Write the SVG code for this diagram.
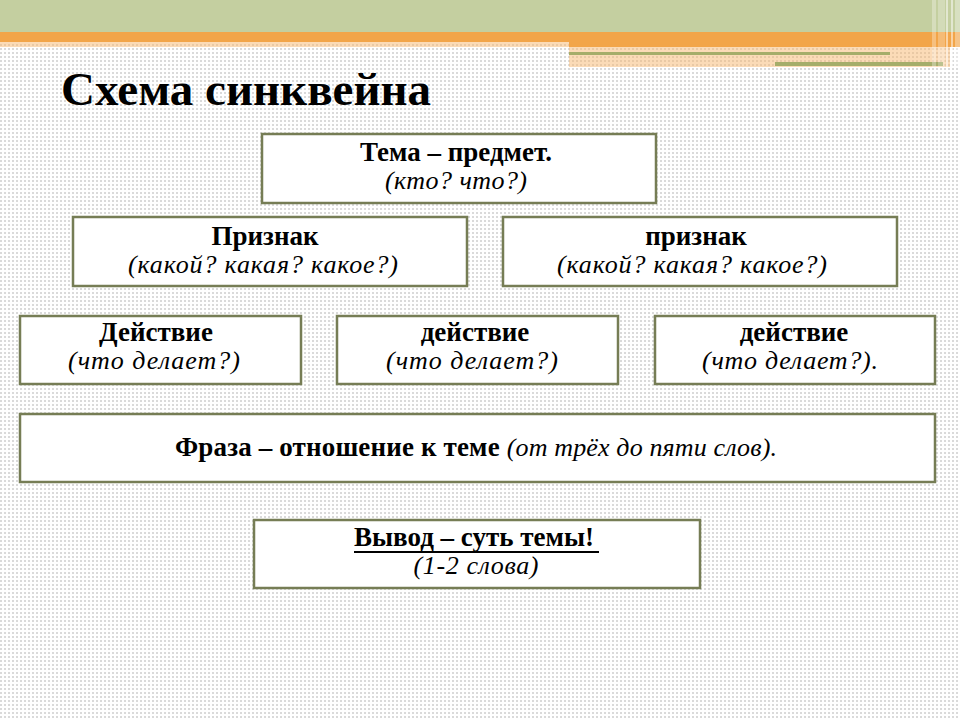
<svg xmlns="http://www.w3.org/2000/svg" width="960" height="720" viewBox="0 0 960 720">
<defs>
<pattern id="dots" width="4" height="4" patternUnits="userSpaceOnUse">
<rect x="0" y="0" width="2" height="2" fill="#dadada"/>
</pattern>
<style>
.box{fill:#ffffff;stroke:#767d55;stroke-width:2.5}
.b{font-family:"Liberation Serif","Times New Roman",serif;font-weight:bold;font-size:27px;fill:#000}
.i{font-family:"Liberation Serif","Times New Roman",serif;font-style:italic;font-size:26px;fill:#000}
.hd{font-family:"Liberation Serif","Times New Roman",serif;font-weight:bold;font-size:47px;fill:#000}
</style>
</defs>
<rect width="960" height="720" fill="#ffffff"/>
<rect width="960" height="720" fill="url(#dots)"/>
<rect x="0" y="0" width="960" height="32" fill="#c4cfa0"/>
<rect x="0" y="32" width="960" height="10" fill="#f2a549"/>
<rect x="569" y="42" width="391" height="5" fill="#f2a549"/>
<rect x="0" y="42" width="569" height="5" fill="#f7b870" opacity="0.5"/>
<rect x="569" y="47" width="381" height="20" fill="#f7b870" opacity="0.5"/>
<rect x="569" y="52" width="321" height="3" fill="#a5ad6a"/>
<rect x="775" y="62" width="168" height="4" fill="#a5ad6a"/>
<rect x="932" y="0" width="4" height="67" fill="#ffffff" opacity="0.3"/>
<rect x="938" y="0" width="7" height="67" fill="#ffffff" opacity="0.25"/>
<rect x="946" y="0" width="2" height="67" fill="#ffffff" opacity="0.5"/>
<rect x="951" y="0" width="2" height="67" fill="#ffffff" opacity="0.5"/>
<rect x="955" y="0" width="5" height="67" fill="#ffffff" opacity="0.35"/>
<text class="hd" x="61" y="105">Схема синквейна</text>
<g id="connectors"></g>
<g id="tema">
<rect class="box" x="262" y="134" width="394" height="69"/>
<text class="b" x="456" y="161" text-anchor="middle">Тема – предмет.</text>
<text class="i" x="456" y="189" text-anchor="middle" textLength="142" lengthAdjust="spacing">(кто? что?)</text>
</g>
<g id="priznak1">
<rect class="box" x="73" y="217" width="394" height="69"/>
<text class="b" x="265" y="245" text-anchor="middle">Признак</text>
<text class="i" x="263" y="273" text-anchor="middle" textLength="270" lengthAdjust="spacing">(какой? какая? какое?)</text>
</g>
<g id="priznak2">
<rect class="box" x="503" y="217" width="394" height="69"/>
<text class="b" x="696" y="245" text-anchor="middle">признак</text>
<text class="i" x="692" y="273" text-anchor="middle" textLength="270" lengthAdjust="spacing">(какой? какая? какое?)</text>
</g>
<g id="deystvie1">
<rect class="box" x="20" y="316" width="281" height="68"/>
<text class="b" x="156" y="341" text-anchor="middle">Действие</text>
<text class="i" x="154" y="369" text-anchor="middle" textLength="172" lengthAdjust="spacing">(что делает?)</text>
</g>
<g id="deystvie2">
<rect class="box" x="337" y="316" width="281" height="68"/>
<text class="b" x="475" y="341" text-anchor="middle">действие</text>
<text class="i" x="472" y="369" text-anchor="middle" textLength="172" lengthAdjust="spacing">(что делает?)</text>
</g>
<g id="deystvie3">
<rect class="box" x="655" y="316" width="280" height="68"/>
<text class="b" x="794" y="341" text-anchor="middle">действие</text>
<text class="i" x="790" y="369" text-anchor="middle" textLength="176" lengthAdjust="spacing">(что делает?).</text>
</g>
<g id="fraza">
<rect class="box" x="20" y="414" width="915" height="68"/>
<text x="175" y="456" textLength="602" lengthAdjust="spacing"><tspan class="b">Фраза – отношение к теме </tspan><tspan class="i">(от трёх до пяти слов).</tspan></text>
</g>
<g id="vyvod">
<rect class="box" x="254" y="520" width="446" height="68"/>
<text class="b" x="354" y="546">Вывод – суть темы!</text>
<line x1="354" y1="552" x2="599" y2="552" stroke="#000" stroke-width="2"/>
<text class="i" x="476" y="574" text-anchor="middle" textLength="125" lengthAdjust="spacing">(1-2 слова)</text>
</g>
</svg>
